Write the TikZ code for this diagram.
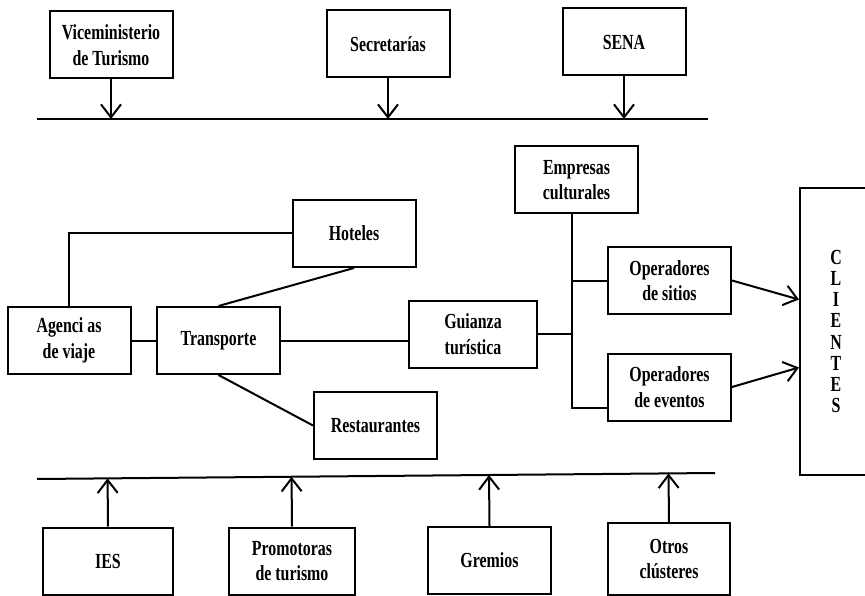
\documentclass[tikz,border=0pt]{standalone}
\usepackage{fontspec}
\setmainfont[FakeStretch=0.74]{Liberation Serif}
\usetikzlibrary{calc, arrows.meta}

\begin{document}
\begin{tikzpicture}[x=1pt, y=-1pt, >={Straight Barb[length=13pt,width=20pt]},
        box/.style={draw, line width=2pt, align=center, inner sep=0pt,
            minimum width=123pt, minimum height=67pt,
            font=\fontsize{21.5}{25.5}\selectfont\bfseries},
        link/.style={line width=2pt}]
    \clip (0,0) rectangle (865,596);
    % entes de arriba
    \node[box] (vice) at (111,45) {Viceministerio\\de Turismo};
    \node[box] (secr) at (388,44) {Secretarías};
    \node[box] (sena) at (624,42) {SENA};
    \coordinate (tl) at (37,119);
    \coordinate (tr) at (708,119);
    \draw[link] (tl) -- (tr);
    \foreach \n in {vice, secr, sena}
        \draw[link, ->] (\n) -- (\n |- tl);

    % cadena
    \node[box] (hotel) at (354,233.5) {Hoteles};
    \node[box] (agen) at (69,340.5) {Agenci as\\de viaje};
    \node[box] (trans) at (218.5,340.5) {Transporte};
    \node[box] (rest) at (375.5,425.5) {Restaurantes};
    \node[box, minimum width=128pt] (guia) at (473,334) {Guianza\\turística};
    \node[box] (empr) at (576.5,180) {Empresas\\culturales};
    \node[box] (opsit) at (669.5,280.5) {Operadores\\de sitios};
    \node[box] (opev) at (669.5,387) {Operadores\\de eventos};
    \node[box, minimum width=72pt, minimum height=287pt,
        font=\fontsize{21.5}{21.1}\selectfont\bfseries] (clientes) at (836,331.5)
        {C\\L\\I\\E\\N\\T\\E\\S};
    \coordinate (trunk) at (572,408);

    \draw[link] (agen.north) |- (hotel.west);
    \draw[link] (trans.north) -- (hotel.south);
    \draw[link] (agen) -- (trans);
    \draw[link] (trans.east) -- (guia.west |- trans.east);
    \draw[link] (trans.south) -- (rest.west);
    \draw[link] (trunk |- empr.south) -- (trunk) -- (trunk -| opev.west);
    \draw[link] (opsit.west) -- (opsit.west -| trunk);
    \draw[link] (guia.east) -- (guia.east -| trunk);
    \draw[link, ->] (opsit.east) -- ([yshift=32pt]clientes.west);
    \draw[link, ->] (opev.east) -- ([yshift=-36pt]clientes.west);

    % entes de abajo
    \node[box, minimum width=130pt] (ies) at (108,561) {IES};
    \node[box, minimum width=126pt] (prom) at (292,561) {Promotoras\\de turismo};
    \node[box] (grem) at (489.5,560.5) {Gremios};
    \node[box, minimum width=122pt, minimum height=72pt] (otros) at (669,559) {Otros\\clústeres};
    \coordinate (bl) at (37,479);
    \coordinate (br) at (715,473);
    \draw[link] (bl) -- (br);
    \foreach \n in {ies, prom, grem, otros}
        \draw[link, ->] (\n.north) -- ($(bl)!(\n.north)!(br)$);
\end{tikzpicture}
\end{document}
